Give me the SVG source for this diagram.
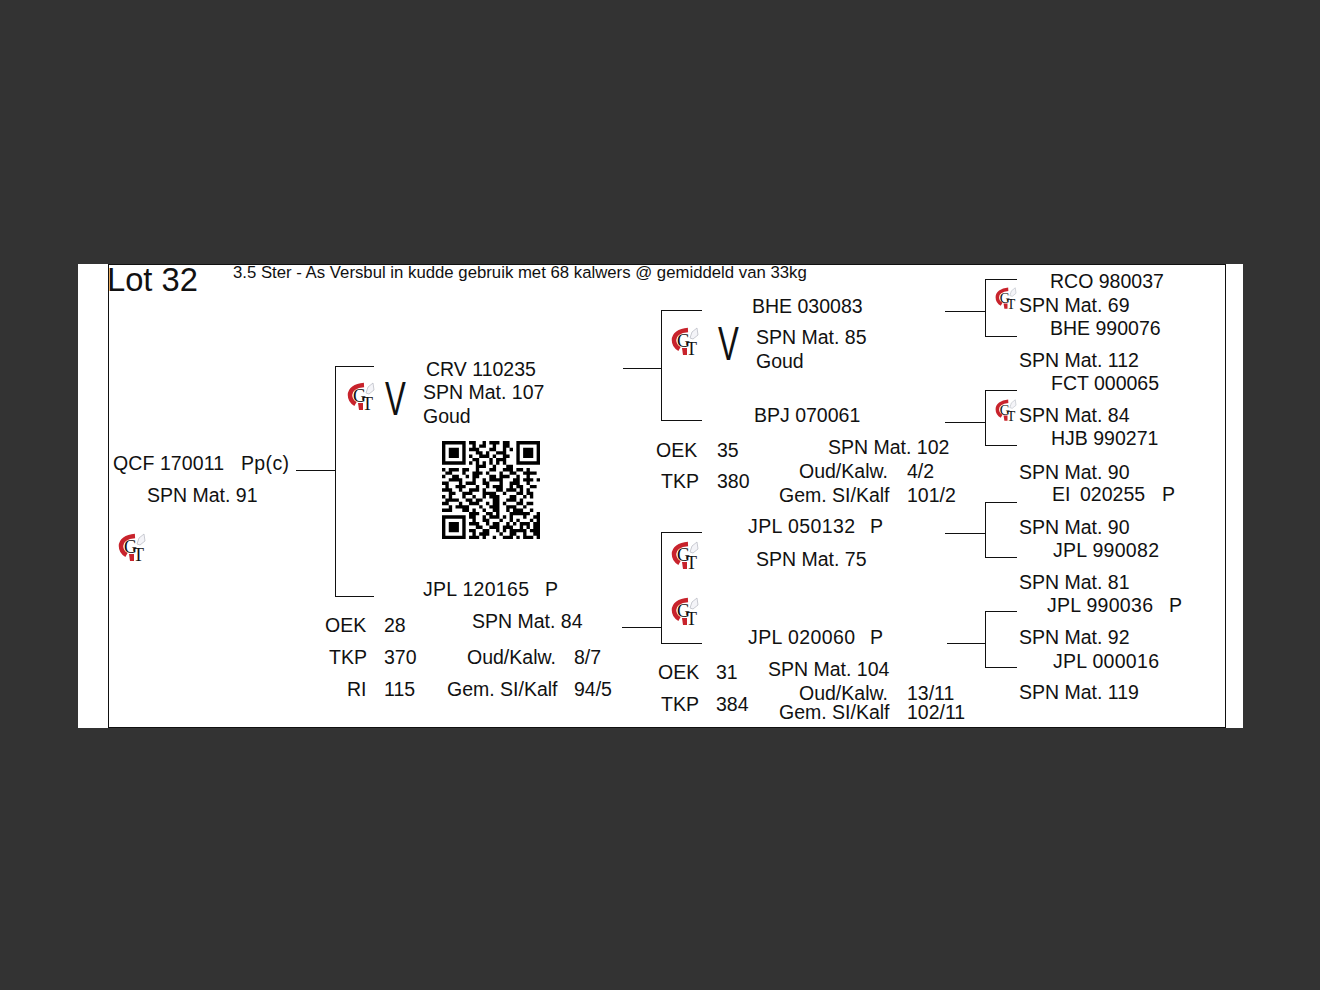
<svg xmlns="http://www.w3.org/2000/svg" width="1320" height="990" viewBox="0 0 1320 990">
<style>
text{font-family:"Liberation Sans",Arial,sans-serif;font-size:19.500px;fill:#111}
.ln{stroke:#111;stroke-width:1;fill:none;shape-rendering:crispEdges}
.lg{font-family:"Liberation Serif",serif;font-size:18px;fill:#111}
</style>
<defs>
<clipPath id="qc"><rect x="0" y="0" width="29" height="29"/></clipPath>
<g id="logo">
<path d="M17 3C8 3.500 3 8 3 13C3 17 5 20 8.500 22" fill="none" stroke="#c8232c" stroke-width="4.500"/>
<path d="M11 21H16V28H12Z" fill="#c8232c"/>
<path d="M19 11L21 5L26 1L27 8L22 12Z" fill="#f4f4f8" stroke="#b4b8c0" stroke-width=".7"/>
<text class="lg" x="6" y="20">G</text>
<text class="lg" x="15" y="28">T</text>
</g>
</defs>
<rect width="1320" height="990" fill="#333333"/>
<rect x="78" y="264" width="1165" height="464" fill="#fff"/>
<g id="connectors" class="ln">
<path d="M108.500 264.500H1225.500V727.500H108.500Z"/>
<path d="M296 470.500H335.500M374 366.500H335.500V596.500H374"/>
<path d="M623 368.500H661.500M702 310.500H661.500V420.500H702"/>
<path d="M622 627.500H661.500M702 532.500H661.500V643.500H702"/>
<path d="M945 311.500H985.500M1017 279.500H985.500V336.500H1017"/>
<path d="M945 422.500H985.500M1017 390.500H985.500V445.500H1017"/>
<path d="M945 533.500H985.500M1017 502.500H985.500V557.500H1017"/>
<path d="M947 643.500H985.500M1017 611.500H985.500V667.500H1017"/>
</g>
<g id="logos">
<use href="#logo" x="118" y="533"/>
<use href="#logo" x="347" y="382"/>
<use href="#logo" x="671" y="327"/>
<use href="#logo" x="671" y="541"/>
<use href="#logo" x="671" y="597"/>
<use href="#logo" transform="translate(995 287) scale(.78)"/>
<use href="#logo" transform="translate(995 399) scale(.78)"/>
</g>
<g id="header">
<text x="107" y="291" style="font-size:32.700px">Lot 32</text>
<text x="233" y="278" style="font-size:16.750px">3.5 Ster - As Versbul in kudde gebruik met 68 kalwers @ gemiddeld van 33kg</text>
</g>
<g id="subject">
<text x="113" y="470" textLength="111">QCF 170011</text><text x="241" y="470" textLength="48">Pp(c)</text>
<text x="147" y="502">SPN Mat. 91</text>
</g>
<g id="sire">
<text transform="translate(385 415) scale(.65 1)" style="font-size:48px">V</text>
<text x="426" y="376">CRV 110235</text>
<text x="423" y="399">SPN Mat. 107</text>
<text x="423" y="423">Goud</text>
</g>
<g id="dam">
<text x="423" y="596" textLength="106">JPL 120165</text><text x="545" y="596">P</text>
<text x="472" y="628">SPN Mat. 84</text>
<text x="325" y="632">OEK</text><text x="384" y="632">28</text>
<text x="329" y="664">TKP</text><text x="384" y="664">370</text>
<text x="347" y="696">RI</text><text x="384" y="696">115</text>
<text x="467" y="664">Oud/Kalw.</text><text x="574" y="664">8/7</text>
<text x="447" y="696">Gem. SI/Kalf</text><text x="574" y="696">94/5</text>
</g>
<g id="gs1">
<text transform="translate(718 360) scale(.65 1)" style="font-size:48px">V</text>
<text x="752" y="313">BHE 030083</text>
<text x="756" y="344">SPN Mat. 85</text>
<text x="756" y="368">Goud</text>
</g>
<g id="gd1">
<text x="754" y="422">BPJ 070061</text>
<text x="828" y="454">SPN Mat. 102</text>
<text x="656" y="457">OEK</text><text x="717" y="457">35</text>
<text x="661" y="488">TKP</text><text x="717" y="488">380</text>
<text x="799" y="478">Oud/Kalw.</text><text x="907" y="478">4/2</text>
<text x="779" y="502">Gem. SI/Kalf</text><text x="907" y="502">101/2</text>
</g>
<g id="gs2">
<text x="748" y="533" textLength="107">JPL 050132</text><text x="870" y="533">P</text>
<text x="756" y="566">SPN Mat. 75</text>
</g>
<g id="gd2">
<text x="748" y="644" textLength="107">JPL 020060</text><text x="870" y="644">P</text>
<text x="768" y="676">SPN Mat. 104</text>
<text x="658" y="679">OEK</text><text x="716" y="679">31</text>
<text x="661" y="711">TKP</text><text x="716" y="711">384</text>
<text x="799" y="700">Oud/Kalw.</text><text x="907" y="700">13/11</text>
<text x="779" y="719">Gem. SI/Kalf</text><text x="907" y="719">102/11</text>
</g>
<g id="ancestors">
<text x="1050" y="288">RCO 980037</text>
<text x="1019" y="312">SPN Mat. 69</text>
<text x="1050" y="335">BHE 990076</text>
<text x="1019" y="367">SPN Mat. 112</text>
<text x="1051" y="390">FCT 000065</text>
<text x="1019" y="422">SPN Mat. 84</text>
<text x="1051" y="445">HJB 990271</text>
<text x="1019" y="479">SPN Mat. 90</text>
<text x="1052" y="501">EI</text><text x="1080" y="501">020255</text><text x="1162" y="501">P</text>
<text x="1019" y="534">SPN Mat. 90</text>
<text x="1053" y="557" textLength="106">JPL 990082</text>
<text x="1019" y="589">SPN Mat. 81</text>
<text x="1047" y="612" textLength="106">JPL 990036</text><text x="1169" y="612">P</text>
<text x="1019" y="644">SPN Mat. 92</text>
<text x="1053" y="668" textLength="106">JPL 000016</text>
<text x="1019" y="699">SPN Mat. 119</text>
</g>
<g id="qr" transform="translate(442 441) scale(3.380)" clip-path="url(#qc)">
<path fill-rule="evenodd" d="M0 0h7v7h-7zM1 1v5h5v-5zM2 2h3v3h-3zM22 0h7v7h-7zM23 1v5h5v-5zM24 2h3v3h-3zM0 22h7v7h-7zM1 23v5h5v-5zM2 24h3v3h-3z"/>
<path fill="none" stroke="#000" d="M8 .5h2m2 0h1m1 0h3m1 0h2
M9 1.500h1m1 0h2m2 0h1m2 0h2
M8 2.500h3m3 0h2m2 0h1m1 0h1
M10 3.500h2m1 0h1m2 0h3
M8 4.500h1m2 0h3m1 0h1m2 0h2
M9 5.500h2m3 0h1m1 0h3
M8 6.500h1m1 0h1m1 0h1m1 0h1m1 0h1m1 0h1
M10 7.500h3m2 0h1m3 0h2
M0 8.500h1m1 0h3m1 0h2m2 0h1m3 0h2m2 0h3m1 0h2m1 0h1
M1 9.500h2m3 0h1m2 0h3m1 0h1m3 0h1m2 0h2m2 0h4
M0 10.500h1m2 0h2m2 0h1m1 0h2m3 0h2m1 0h3m2 0h1m2 0h1
M2 11.500h4m3 0h1m2 0h1m1 0h4m3 0h2m1 0h3m1 0h2
M0 12.500h2m3 0h1m1 0h3m2 0h2m3 0h1m2 0h3m2 0h1
M1 13.500h1m2 0h3m3 0h1m2 0h1m1 0h3m2 0h1m1 0h2m2 0h2
M0 14.500h3m2 0h1m2 0h3m1 0h1m3 0h2m1 0h3m1 0h1m1 0h1
M2 15.500h2m2 0h3m3 0h4m2 0h1m3 0h2m1 0h2
M0 16.500h1m1 0h1m3 0h1m2 0h1m2 0h1m1 0h3m3 0h2m2 0h1m1 0h1
M1 17.500h4m2 0h2m1 0h2m3 0h2m2 0h3m1 0h1
M0 18.500h2m3 0h1m2 0h3m2 0h1m1 0h2m1 0h1m3 0h2m1 0h2
M2 19.500h1m1 0h4m3 0h1m2 0h3m2 0h3m2 0h1
M0 20.500h3m3 0h2m1 0h1m2 0h1m2 0h2m2 0h1m1 0h3m2 0h1
M8 21.500h3m2 0h2m1 0h1m3 0h6m2 0h1
M8 22.500h2m2 0h1m1 0h3m1 0h1m1 0h1m3 0h1m2 0h3
M9 23.500h1m2 0h2m3 0h1m2 0h1m1 0h1m3 0h1m1 0h2
M8 24.500h3m2 0h1m1 0h2m2 0h1m1 0h1m1 0h3m1 0h3
M10 25.500h2m2 0h3m1 0h3m2 0h1m1 0h1m1 0h2
M8 26.500h2m2 0h2m2 0h1m1 0h1m1 0h5m1 0h3
M9 27.500h1m1 0h3m3 0h1m2 0h2m2 0h1m2 0h2
M8 28.500h3m1 0h1m2 0h1m2 0h3m1 0h1m1 0h3m1 0h1"/>
</g>
</svg>
